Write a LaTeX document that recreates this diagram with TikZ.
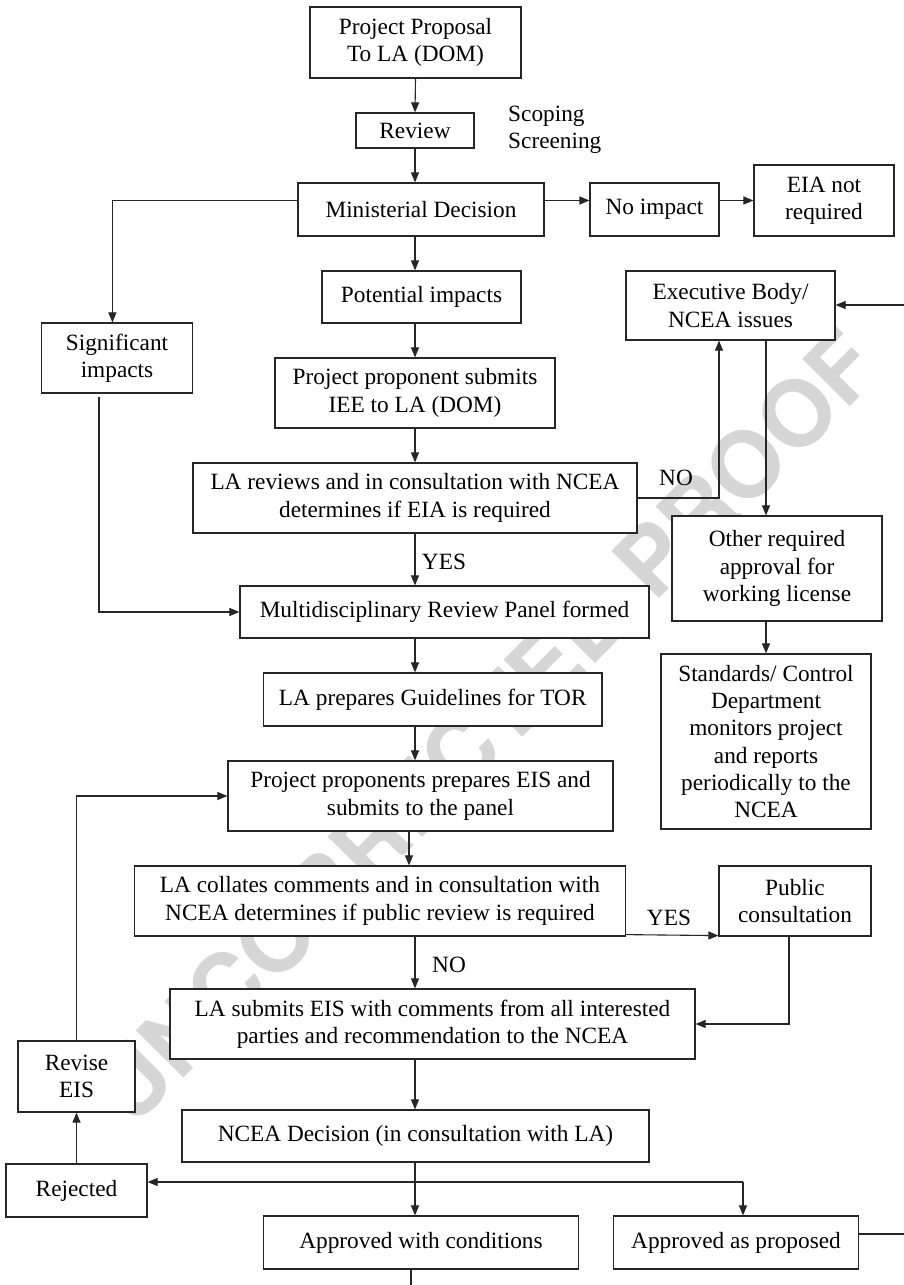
\documentclass[tikz,border=0pt]{standalone}
\usepackage{fontspec}
\setmainfont{Liberation Serif}
\newfontfamily\wmfont{TeX Gyre Heros}
\usetikzlibrary{arrows.meta,calc}
\begin{document}
\begin{tikzpicture}[x=1pt,y=-1pt,
  box/.style={draw=black!85, fill=white, line width=1.2pt, inner sep=0pt, align=center,
    font=\fontsize{23.3}{27.3}\selectfont},
  lbl/.style={inner sep=0pt, align=center, font=\fontsize{23.3}{27.3}\selectfont},
  arr/.style={-{Triangle[length=10pt,width=8pt]}, line width=1.1pt, draw=black!85},
  ln/.style={line width=1.1pt, draw=black!85}]
\useasboundingbox (0,0) rectangle (904,1285);
\fill[white] (0,0) rectangle (904,1285);
% watermark
\node[text=black!16, rotate=45.2, inner sep=0pt,
  font=\wmfont\bfseries\fontsize{92}{92}\selectfont] (wm) at (485,727) {UNCORRECTED PROOF};
% boxes
\node[box, minimum width=211pt, minimum height=71pt] (pp) at (415.5,42.5) {Project Proposal\\To LA (DOM)};
\node[box, minimum width=118pt, minimum height=35pt] (rev) at (415,130.5) {Review};
\node[lbl, anchor=west, align=left] (scr) at (508,130) {Scoping\\Screening};
\node[box, minimum width=246pt, minimum height=53pt] (md) at (421,209.5) {Ministerial Decision};
\node[box, minimum width=129pt, minimum height=53pt] (noimp) at (654.5,209.5) {No impact};
\node[box, minimum width=140pt, minimum height=71pt] (eia) at (824,200.5) {EIA not\\required};
\node[box, minimum width=199pt, minimum height=52pt] (pot) at (421.5,297) {Potential impacts};
\node[box, minimum width=209pt, minimum height=69pt] (exec) at (730.5,305.5) {Executive Body/\\NCEA issues};
\node[box, minimum width=151pt, minimum height=70pt] (sig) at (117,358) {Significant\\impacts};
\node[box, minimum width=280pt, minimum height=70pt] (pps) at (415,393) {Project proponent submits\\IEE to LA (DOM)};
\node[box, minimum width=444pt, minimum height=70pt] (lar) at (415,498) {LA reviews and in consultation with NCEA\\determines if EIA is required};
\node[box, minimum width=210pt, minimum height=105pt] (oth) at (777,568.5) {Other required\\approval for\\working license};
\node[box, minimum width=409pt, minimum height=52pt] (mrp) at (444.5,612) {Multidisciplinary Review Panel formed};
\node[box, minimum width=338.5pt, minimum height=53pt] (guide) at (432.75,699.5) {LA prepares Guidelines for TOR};
\node[box, minimum width=210pt, minimum height=175pt] (std) at (766,741.5) {Standards/ Control\\Department\\monitors project\\and reports\\periodically to the\\NCEA};
\node[box, minimum width=385pt, minimum height=70pt] (ppe) at (420.5,796) {Project proponents prepares EIS and\\submits to the panel};
\node[box, minimum width=490.5pt, minimum height=70pt] (col) at (380,901) {LA collates comments and in consultation with\\NCEA determines if public review is required};
\node[box, minimum width=152pt, minimum height=70pt] (pub) at (795,901) {Public\\consultation};
\node[box, minimum width=525pt, minimum height=70pt] (las) at (432.5,1024) {LA submits EIS with comments from all interested\\parties and recommendation to the NCEA};
\node[box, minimum width=117pt, minimum height=71pt] (rev2) at (76.5,1076.5) {Revise\\EIS};
\node[box, minimum width=467pt, minimum height=52pt] (ncea) at (415.5,1136) {NCEA Decision (in consultation with LA)};
\node[box, minimum width=141pt, minimum height=53pt] (rej) at (76.5,1190.5) {Rejected};
\node[box, minimum width=315.5pt, minimum height=53pt] (acond) at (421,1242.5) {Approved with conditions};
\node[box, minimum width=245.5pt, minimum height=53pt] (aprop) at (736,1242.5) {Approved as proposed};
% labels
\node[lbl] (no1) at (676,478) {NO};
\node[lbl] (yes1) at (444,562) {YES};
\node[lbl] (yes2) at (669,918) {YES};
\node[lbl] (no2) at (449,965) {NO};
% connectors
\draw[arr] (pp.south) -- (rev.north);
\draw[arr] (rev.south) -- (rev.south |- md.north);
\draw[arr] (md.south -| rev) -- (pot.north -| rev);
\draw[arr] (pot.south -| rev) -- (pps.north -| rev);
\draw[arr] (pps.south -| rev) -- (lar.north -| rev);
\draw[arr] (lar.south -| rev) -- (mrp.north -| rev);
\draw[arr] (mrp.south -| rev) -- (guide.north -| rev);
\draw[arr] (guide.south -| rev) -- (ppe.north -| rev);
\coordinate (p1) at ([xshift=-11.5pt]ppe.south);
\draw[arr] (p1) -- (p1 |- col.north);
\draw[arr] (col.south -| rev) -- (las.north -| rev);
\draw[arr] (las.south -| rev) -- (ncea.north -| rev);
\draw[arr] (ncea.south -| rev) -- (acond.north -| rev);
\coordinate (j) at (743,1182);
\draw[arr] (j) -- (rej.east |- j);
\draw[arr] (j) -- (j |- aprop.north);
\draw[arr] (rej.north) -- (rev2.south);
\draw[arr] (rev2.north) |- (ppe.west);
\coordinate (aout) at (904,1234);
\draw[ln] ([yshift=8.5pt]aprop.east) -- (aout);
\coordinate (cbot) at (411,1285);
\draw[ln] ([xshift=-10pt]acond.south) -- (cbot);
\draw[arr] ([yshift=2pt]col.south east) -- ([yshift=1pt]pub.south west);
\draw[arr] ([xshift=-6pt]pub.south) |- (las.east);
\draw[arr] (lar.east) -| ([xshift=-11.5pt]exec.south);
\coordinate (e1) at ([xshift=35.5pt]exec.south);
\draw[arr] (e1) -- (e1 |- oth.north);
\draw[arr] (oth.south -| std) -- (std.north);
\coordinate (ein) at (904,305);
\draw[arr] (ein) -- (exec.east |- ein);
\draw[arr] (md.east |- eia.west) -- (noimp.west |- eia.west);
\draw[arr] (noimp.east |- eia.west) -- (eia.west);
\draw[arr] (md.west |- eia.west) -| ([xshift=-4.6pt]sig.north);
\draw[arr] ([xshift=-18pt,yshift=-3pt]sig.south) |- (mrp.west);
\end{tikzpicture}
\end{document}
